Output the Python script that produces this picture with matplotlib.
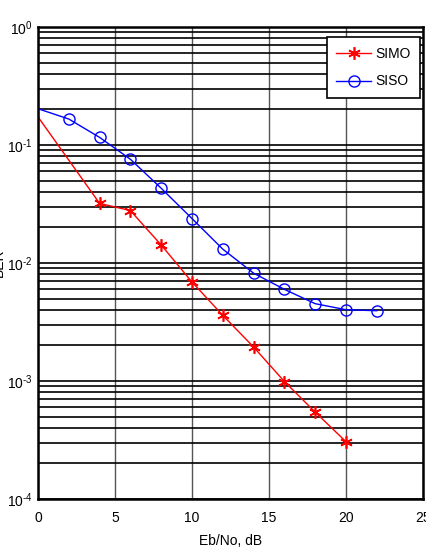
import numpy as np
import matplotlib.pyplot as plt
from matplotlib.ticker import LogLocator, FixedLocator

plt.rcParams['font.family'] = ['Liberation Sans', 'DejaVu Sans']
plt.rcParams['mathtext.fontset'] = 'custom'
plt.rcParams['mathtext.rm'] = 'Liberation Sans'
plt.rcParams['mathtext.it'] = 'Liberation Sans'

# data
snr_siso = [0, 2, 4, 6, 8, 10, 12, 14, 16, 18, 20, 22]
ber_siso = [0.203, 0.166, 0.116, 0.0757, 0.043, 0.0238, 0.0131, 0.0082,
            0.00598, 0.00452, 0.00402, 0.00394]
snr_simo = [0, 4, 6, 8, 10, 12, 14, 16, 18, 20]
ber_simo = [0.173, 0.032, 0.0278, 0.0142, 0.0069, 0.0036, 0.00194,
            0.00099, 0.000545, 0.000306]
xticks = [0, 5, 10, 15, 20, 25]

fig = plt.figure(figsize=(4.26, 5.52), dpi=100)
ax = fig.add_axes([38 / 426, 53 / 552, 385 / 426, 472 / 552])

# first point sits on the axis edge, marker is clipped there in the original
ax.semilogy(snr_simo, ber_simo, color='red', marker=(6, 2, 0), markersize=9,
            markeredgewidth=1.2, linewidth=1, label='SIMO',
            markevery=list(range(1, len(snr_simo))))
ax.semilogy(snr_siso, ber_siso, color='blue', marker='o', markersize=8,
            markerfacecolor='none', markeredgewidth=1, linewidth=1, label='SISO',
            markevery=list(range(1, len(snr_siso))))

ax.set_xlim(0, 25)
ax.set_ylim(1e-4, 1)
ax.xaxis.set_major_locator(FixedLocator(xticks))
ax.yaxis.set_major_locator(LogLocator(base=10, numticks=10))
ax.yaxis.set_minor_locator(LogLocator(base=10, subs=np.arange(2, 10), numticks=10))
ax.yaxis.set_major_formatter(
    plt.FuncFormatter(lambda v, p: r'$10^{\text{%d}}$' % round(np.log10(v))))

ax.grid(True, which='major', axis='x', color='#555555', linewidth=1)
ax.grid(True, which='both', axis='y', color='black', linewidth=1.2)
ax.set_axisbelow(True)
ax.tick_params(which='both', direction='in', length=0, labelsize=10)
ax.tick_params(axis='x', pad=9)
ax.tick_params(axis='y', pad=4)
for s in ax.spines.values():
    s.set_linewidth(1.8)

ax.set_xlabel('Eb/No, dB', fontsize=10, labelpad=6)
ax.set_ylabel('BER', fontsize=10)
ax.yaxis.set_label_coords(-0.083, 0.5)

leg = ax.legend(loc='upper right', fontsize=10, fancybox=False, framealpha=1,
                edgecolor='black', borderaxespad=0.2, handlelength=2.5,
                borderpad=0.7, labelspacing=1.0, handletextpad=0.3,
                bbox_to_anchor=(1.0, 0.985))
leg.get_frame().set_linewidth(1.2)

fig.savefig('out.png', dpi=100)
